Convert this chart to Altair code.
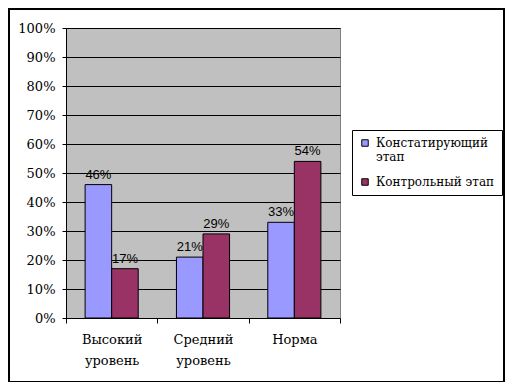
import altair as alt
import pandas as pd

categories = ["Высокий уровень", "Средний уровень", "Норма"]
series = ["Констатирующий этап", "Контрольный этап"]
konst = [46, 21, 33]
kontr = [17, 29, 54]
colors = ["#9999FF", "#993366"]

rows = []
for i, c in enumerate(categories):
    rows.append({"cat": c, "series": series[0], "value": konst[i] / 100})
    rows.append({"cat": c, "series": series[1], "value": kontr[i] / 100})
df = pd.DataFrame(rows)

W, H = 274, 290
SERIF = "DejaVu Serif"

x = alt.X(
    "cat:N", sort=categories, title=None,
    scale=alt.Scale(paddingInner=0, paddingOuter=0),
    axis=alt.Axis(
        labelExpr="split(datum.label, ' ')", labelAngle=0,
        labelFont=SERIF, labelFontSize=13, labelColor="black",
        labelLineHeight=21, labelPadding=10,
        domainColor="black", tickColor="black", tickSize=5, tickBand="extent",
        grid=False,
    ),
)
xoff = alt.XOffset("series:N", sort=series, scale=alt.Scale(paddingInner=0, paddingOuter=0.72))
y = alt.Y(
    "value:Q", title=None,
    scale=alt.Scale(domain=[0, 1], nice=False),
    axis=alt.Axis(
        format=".0%", values=[i / 10 for i in range(11)],
        labelFont=SERIF, labelFontSize=13, labelColor="black",
        labelPadding=7, tickSize=4, tickColor="black", domainColor="black",
        grid=True, gridColor="black", gridOpacity=1, gridWidth=1,
    ),
)
color = alt.Color(
    "series:N", sort=series,
    scale=alt.Scale(domain=series, range=colors),
    legend=alt.Legend(
        orient="none", legendX=286, legendY=102, title=None,
        strokeColor="black", fillColor="white", padding=7,
        symbolType="square", symbolSize=42, symbolStrokeColor="black",
        symbolStrokeWidth=1,
        labelFont=SERIF, labelFontSize=12, labelColor="black",
        labelExpr="datum.label == 'Констатирующий этап' ? ['Констатирующий', 'этап'] : datum.label",
        labelLimit=300, rowPadding=13, labelOffset=5,
    ),
)

base = alt.Chart(df)
bars = base.mark_bar(stroke="black", strokeWidth=1).encode(x=x, xOffset=xoff, y=y, color=color)
labels = base.mark_text(
    font="Liberation Sans", fontSize=13, color="black", baseline="alphabetic", dy=-6
).encode(x=x, xOffset=xoff, y=y, text=alt.Text("value:Q", format=".0%"))

border = alt.Chart(pd.DataFrame({"a": [0]})).mark_rect(
    fillOpacity=0, stroke="black", strokeWidth=2
).encode(x=alt.value(-57), x2=alt.value(438), y=alt.value(-19), y2=alt.value(354))

chart = alt.layer(bars, labels, border).properties(
    width=W, height=H,
    autosize=alt.AutoSizeParams(type="none"),
    padding={"left": 58, "top": 20, "right": 165, "bottom": 64},
).configure_view(fill="#C0C0C0", stroke="#808080")

chart.save("out.html", embed_options={"renderer": "svg", "actions": False})
